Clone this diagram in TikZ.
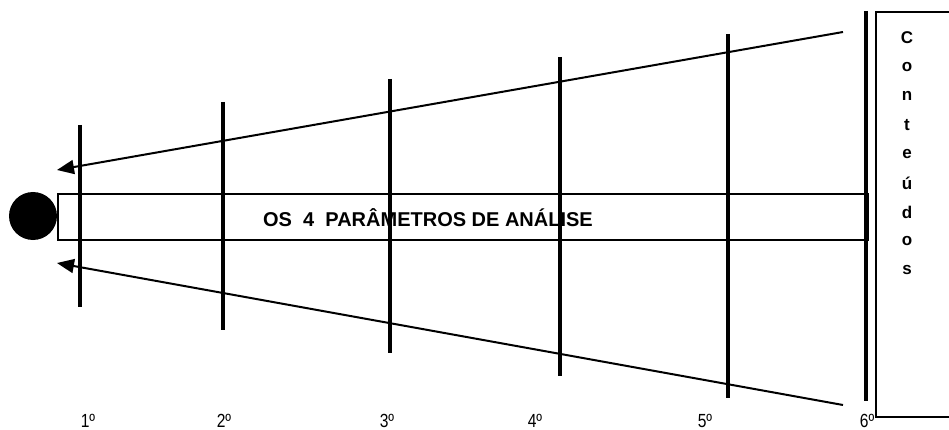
\documentclass[tikz,border=0pt]{standalone}
\usepackage{fontspec}
\setmainfont{Liberation Sans}
\newfontfamily\narrowfont[FakeStretch=0.82]{Liberation Sans}
\usetikzlibrary{arrows.meta}
\begin{document}
\begin{tikzpicture}[x=1pt,y=-1pt,
  stage/.style={line width=4.5pt},
  ray/.style={line width=2pt,-{Triangle[length=17pt,width=14pt]}},
  lab/.style={font=\narrowfont\fontsize{19}{19}\selectfont,inner sep=0pt,text depth=0pt,anchor=base},
  letter/.style={font=\bfseries\fontsize{17}{17}\selectfont,inner sep=0pt}]
\useasboundingbox (0,0) rectangle (949,430);
% central bar
\node[draw,line width=1.8pt,minimum width=810pt,minimum height=46pt,inner sep=0pt,anchor=north west] (bar) at (57,193) {};
\node[font=\bfseries\fontsize{20}{20}\selectfont] (title) at (428,218) {OS\ \ 4\ \ PARÂMETROS DE ANÁLISE};
% circle
\node[circle,fill=black,minimum size=48pt,inner sep=0pt] (dot) at (33,216) {};
% vertical stage lines
\coordinate (s1t) at (80,125); \coordinate (s1b) at (80,307);
\coordinate (s2t) at (223,102); \coordinate (s2b) at (223,330);
\coordinate (s3t) at (390,79); \coordinate (s3b) at (390,353);
\coordinate (s4t) at (560,57); \coordinate (s4b) at (560,376);
\coordinate (s5t) at (728,34); \coordinate (s5b) at (728,398);
\coordinate (s6t) at (866,11); \coordinate (s6b) at (866,401);
\foreach \i in {1,...,6}{\draw[stage] (s\i t) -- (s\i b);}
% converging arrows
\coordinate (ua) at (843,32); \coordinate (ut) at (57,170);
\coordinate (la) at (843,405); \coordinate (lt) at (57,263);
\draw[ray] (ua) -- (ut);
\draw[ray] (la) -- (lt);
% stage labels
\node[lab] (l1) at (88,427) {1º};
\node[lab] (l2) at (224,427) {2º};
\node[lab] (l3) at (387,427) {3º};
\node[lab] (l4) at (535,427) {4º};
\node[lab] (l5) at (705,427) {5º};
\node[lab] (l6) at (867,427) {6º};
% contents box
\draw[line width=1.8pt] (950,12) -- (876,12) -- (876,417) -- (950,417);
\foreach \c [count=\k from 0] in {C,o,n,t,e,ú,d,o,s}{
  \node[letter] (c\k) at (907,{38+29*\k}) {\c};}
\end{tikzpicture}
\end{document}
